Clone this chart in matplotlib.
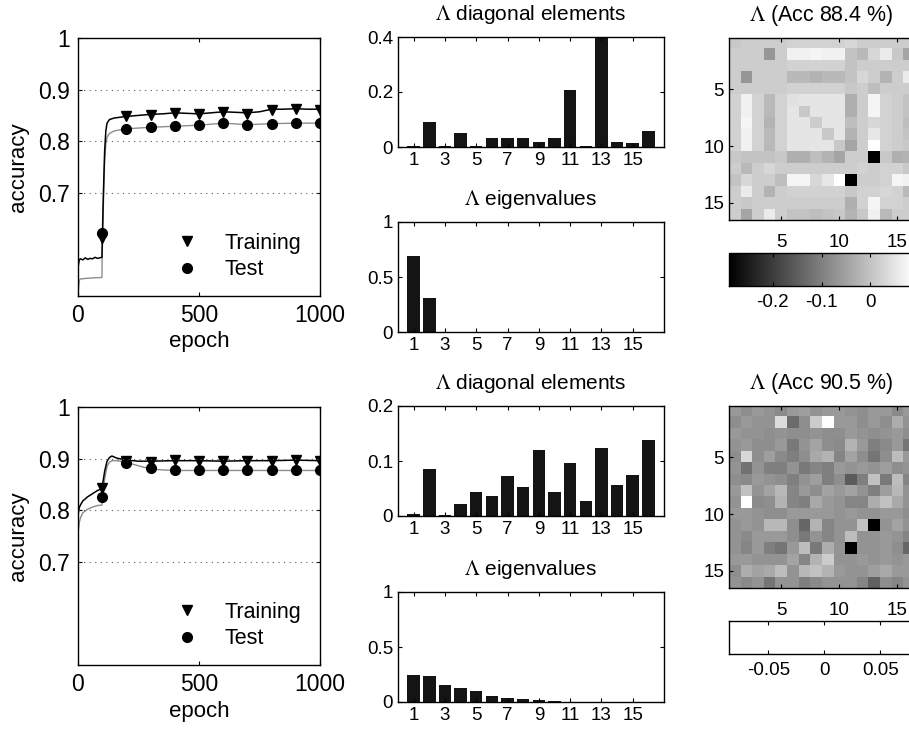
import matplotlib
matplotlib.use('Agg')
import matplotlib.pyplot as plt
import numpy as np

plt.rcParams['font.family'] = ['Liberation Sans', 'DejaVu Sans']
plt.rcParams['mathtext.fontset'] = 'stix'
plt.rcParams['xtick.direction'] = 'in'
plt.rcParams['ytick.direction'] = 'in'
plt.rcParams['xtick.top'] = True
plt.rcParams['ytick.right'] = True
plt.rcParams['axes.linewidth'] = 1.0

########################
# accuracy curves
########################
# run 1 (upper row)
train1_ep = [0, 5, 10, 20, 30, 40, 50, 60, 70, 80, 90, 99, 100, 105, 110, 115, 120, 130, 150,
             200, 250, 300, 350, 400, 450, 500, 550, 600, 650, 700, 750, 800, 850, 900, 950, 1000]
train1_acc = [0.555, 0.570, 0.572, 0.570, 0.574, 0.571, 0.573, 0.572, 0.575, 0.573, 0.574, 0.575,
              0.600, 0.700, 0.780, 0.820, 0.835, 0.842, 0.845, 0.848, 0.850, 0.852, 0.853, 0.855,
              0.854, 0.853, 0.855, 0.857, 0.856, 0.855, 0.857, 0.862, 0.862, 0.863, 0.862, 0.862]
test1_ep = [0, 5, 10, 30, 60, 99, 100, 105, 110, 115, 120, 130, 150,
            200, 300, 400, 500, 600, 700, 800, 900, 1000]
test1_acc = [0.505, 0.530, 0.533, 0.534, 0.535, 0.536, 0.580, 0.680, 0.760, 0.795, 0.808, 0.815,
             0.820, 0.824, 0.827, 0.829, 0.831, 0.835, 0.832, 0.834, 0.835, 0.835]

# run 2 (lower row)
train2_ep = [0, 5, 10, 20, 40, 60, 80, 99, 100, 110, 120, 130, 140, 160, 200, 250,
             300, 400, 500, 600, 700, 800, 900, 1000]
train2_acc = [0.790, 0.805, 0.810, 0.818, 0.826, 0.832, 0.838, 0.842, 0.845, 0.875, 0.895, 0.902,
              0.905, 0.901, 0.897, 0.895, 0.895, 0.896, 0.896, 0.895, 0.896, 0.896, 0.897, 0.896]
test2_ep = [0, 5, 10, 20, 40, 60, 80, 99, 100, 110, 120, 130, 140, 160, 200, 250,
            300, 350, 400, 500, 600, 700, 800, 900, 1000]
test2_acc = [0.755, 0.775, 0.785, 0.795, 0.802, 0.806, 0.809, 0.810, 0.815, 0.860, 0.885, 0.893,
             0.896, 0.896, 0.893, 0.886, 0.880, 0.878, 0.877, 0.877, 0.877, 0.877, 0.877, 0.877, 0.877]

mark_ep = [100, 200, 300, 400, 500, 600, 700, 800, 900, 1000]
train1_mark = [0.612, 0.848, 0.851, 0.854, 0.853, 0.856, 0.853, 0.861, 0.863, 0.861]
test1_mark = [0.622, 0.824, 0.827, 0.829, 0.831, 0.835, 0.832, 0.834, 0.835, 0.835]
train2_mark = [0.843, 0.895, 0.894, 0.897, 0.896, 0.895, 0.896, 0.896, 0.898, 0.896]
test2_mark = [0.826, 0.892, 0.882, 0.878, 0.877, 0.877, 0.877, 0.877, 0.877, 0.877]

########################
# Lambda bars
########################
idx = np.arange(1, 17)
diag1 = [0.002, 0.092, 0.002, 0.052, 0.002, 0.031, 0.031, 0.031,
         0.017, 0.034, 0.207, 0.004, 0.400, 0.017, 0.014, 0.057]
eig1 = [0.69, 0.31, 0.001, 0.001, 0.001, 0.001, 0.001, 0.001,
        0.001, 0.001, 0.001, 0.001, 0.001, 0.001, 0.001, 0.001]
diag2 = [0.004, 0.086, 0.002, 0.022, 0.044, 0.036, 0.073, 0.052,
         0.120, 0.043, 0.097, 0.028, 0.123, 0.057, 0.074, 0.138]
eig2 = [0.248, 0.236, 0.155, 0.124, 0.100, 0.052, 0.039, 0.024,
        0.018, 0.005, 0.003, 0.002, 0.001, 0.001, 0.001, 0.001]

########################
# Lambda matrices
########################
lam1 = np.array([
    [0.008, 0.015, 0.015, 0.015, 0.015, 0.023, 0.023, 0.023, 0.023, 0.023, 0.030, 0.015, 0.015, 0.015, 0.015, 0.015],
    [0.015, 0.015, 0.015, -0.067, 0.015, 0.068, 0.068, 0.075, 0.068, 0.068, 0.001, -0.014, 0.030, 0.060, 0.008, -0.044],
    [0.015, 0.015, 0.015, 0.015, 0.015, 0.023, 0.023, 0.023, 0.023, 0.023, 0.001, 0.015, 0.015, 0.015, 0.015, 0.015],
    [0.015, -0.067, 0.015, 0.015, 0.015, -0.014, -0.014, -0.022, -0.014, -0.014, 0.001, 0.030, 0.015, -0.022, 0.015, 0.060],
    [0.015, 0.015, 0.015, 0.015, 0.015, 0.023, 0.023, 0.023, 0.023, 0.023, 0.008, 0.015, -0.007, 0.015, 0.015, 0.015],
    [0.023, 0.068, 0.023, -0.014, 0.023, 0.045, 0.050, 0.050, 0.050, 0.050, -0.029, 0.015, 0.075, 0.023, 0.015, 0.001],
    [0.023, 0.068, 0.023, -0.014, 0.023, 0.050, 0.008, 0.050, 0.050, 0.050, -0.029, 0.015, 0.075, 0.023, 0.015, 0.001],
    [0.023, 0.075, 0.023, -0.022, 0.023, 0.050, 0.050, 0.015, 0.050, 0.050, -0.007, 0.015, 0.030, 0.023, 0.015, -0.007],
    [0.023, 0.068, 0.023, -0.014, 0.023, 0.050, 0.050, 0.050, 0.008, 0.050, -0.022, 0.015, 0.053, 0.023, 0.015, 0.001],
    [0.023, 0.068, 0.023, -0.014, 0.023, 0.050, 0.050, 0.050, 0.050, 0.008, -0.044, 0.015, 0.090, 0.023, 0.015, 0.008],
    [0.008, 0.001, 0.001, 0.001, 0.008, -0.029, -0.029, -0.007, -0.022, -0.044, 0.015, 0.015, -0.290, 0.008, -0.029, -0.022],
    [0.015, -0.014, 0.015, 0.030, 0.015, 0.015, 0.015, 0.015, 0.015, 0.015, 0.015, 0.023, 0.015, 0.023, 0.023, 0.008],
    [0.001, 0.030, 0.015, 0.015, -0.007, 0.075, 0.075, 0.030, 0.053, 0.090, -0.290, 0.015, 0.015, 0.023, 0.075, 0.068],
    [0.015, 0.060, 0.015, -0.022, 0.015, 0.023, 0.023, 0.023, 0.023, 0.023, 0.008, 0.023, 0.023, 0.030, 0.023, -0.014],
    [0.015, 0.008, 0.015, 0.015, 0.015, 0.015, 0.015, 0.015, 0.015, 0.015, -0.029, 0.023, 0.075, 0.023, 0.023, 0.015],
    [0.015, -0.044, 0.015, 0.060, 0.015, 0.001, 0.001, -0.007, 0.001, 0.008, -0.022, 0.008, 0.068, -0.014, 0.015, 0.015],
])
lam2 = np.array([
    [0.014, 0.007, 0.014, 0.011, 0.004, 0.014, 0.017, 0.011, 0.014, 0.014, 0.011, 0.007, 0.014, 0.014, 0.004, 0.014],
    [0.007, 0.014, 0.011, 0.011, 0.057, -0.016, 0.007, 0.047, 0.080, 0.014, 0.014, 0.007, 0.014, 0.007, 0.027, 0.011],
    [0.014, 0.011, 0.011, 0.007, 0.011, 0.007, 0.007, 0.011, 0.007, 0.007, 0.014, 0.011, 0.007, 0.011, 0.014, 0.007],
    [0.011, 0.014, 0.007, 0.007, 0.014, -0.006, 0.011, 0.021, 0.007, 0.004, 0.031, 0.014, -0.003, 0.004, 0.014, -0.009],
    [0.007, 0.054, 0.007, 0.017, 0.004, -0.003, 0.007, 0.024, 0.031, 0.001, 0.021, 0.007, -0.009, 0.007, 0.037, 0.014],
    [0.011, -0.012, 0.011, -0.003, -0.003, 0.011, -0.006, 0.001, -0.003, 0.014, 0.011, 0.014, 0.011, 0.017, 0.007, 0.011],
    [0.007, 0.004, 0.014, 0.011, 0.007, -0.003, 0.011, 0.017, -0.003, 0.007, -0.026, -0.003, 0.040, -0.006, 0.037, 0.001],
    [0.014, 0.040, 0.011, 0.021, 0.034, 0.001, 0.014, 0.007, 0.021, 0.014, 0.021, 0.011, -0.003, 0.017, 0.034, 0.011],
    [0.011, 0.080, 0.004, 0.007, 0.031, 0.001, -0.003, 0.024, 0.014, 0.011, 0.001, 0.001, 0.027, 0.040, 0.024, 0.011],
    [0.014, 0.014, 0.011, 0.007, 0.007, 0.014, 0.014, 0.014, 0.014, 0.011, 0.014, 0.011, 0.011, 0.014, 0.014, 0.007],
    [0.011, 0.014, 0.011, 0.034, 0.034, 0.007, -0.019, 0.031, 0.001, 0.011, 0.011, 0.040, -0.085, 0.011, 0.021, 0.011],
    [0.011, 0.004, 0.014, 0.014, 0.014, 0.007, -0.006, 0.011, 0.001, 0.011, 0.037, 0.011, 0.011, 0.014, 0.011, 0.001],
    [0.011, 0.001, 0.014, -0.003, -0.009, 0.014, 0.037, -0.006, 0.027, 0.011, -0.085, 0.011, 0.011, 0.014, 0.007, -0.019],
    [0.014, 0.014, 0.011, 0.011, 0.011, 0.021, 0.001, 0.031, 0.047, 0.011, 0.011, 0.014, 0.011, 0.014, 0.011, 0.014],
    [0.007, 0.027, 0.021, 0.024, 0.037, 0.011, 0.034, 0.040, 0.031, 0.014, 0.011, 0.011, 0.017, 0.024, 0.014, 0.014],
    [0.011, 0.004, 0.011, -0.009, 0.011, 0.011, -0.003, 0.004, 0.011, 0.011, 0.011, 0.001, -0.022, 0.007, 0.001, 0.011],
])
acc1 = 88.4
acc2 = 90.5

W, H = 909, 731
fig = plt.figure(figsize=(W / 100, H / 100), dpi=100)


def axesPx(l, t, r, b):
    return fig.add_axes([l / W, 1 - b / H, (r - l) / W, (b - t) / H])


def plotAccuracy(top, trEp, trAcc, teEp, teAcc, trMark, teMark):
    ax = axesPx(78, top, 320, top + 258)
    ax.plot(teEp, teAcc, color='0.55', lw=1.0)
    ax.plot(trEp, trAcc, color='k', lw=1.1)
    hTr, = ax.plot(mark_ep, trMark, 'v', color='k', ms=7, ls='none')
    hTe, = ax.plot(mark_ep, teMark, 'o', color='k', ms=7, ls='none')
    for g in [0.7, 0.8, 0.9]:
        ax.axhline(g, color='0.35', lw=0.8, ls=(0, (1, 4)))
    ax.set_xlim(0, 1000)
    ax.set_ylim(0.5, 1.0)
    ax.set_xticks([0, 500, 1000])
    ax.set_yticks([0.7, 0.8, 0.9, 1.0])
    ax.set_yticklabels(['0.7', '0.8', '0.9', '1'])
    ax.tick_params(labelsize=16.5, length=3, pad=6)
    ax.set_xlabel('epoch', fontsize=16, labelpad=3)
    ax.set_ylabel('accuracy', fontsize=16, labelpad=6)
    ax.legend([hTr, hTe], ['Training', 'Test'], loc='lower left',
              bbox_to_anchor=(0.34, 0.02), frameon=False, fontsize=15.5,
              handletextpad=1.0, labelspacing=0.25, borderpad=0, handlelength=1.5)


def plotBars(top, vals, ymax, yticks, title):
    ax = axesPx(398, top, 664, top + 110)
    ax.bar(idx, vals, width=0.8, color='#141414')
    ax.set_xlim(0, 17)
    ax.set_ylim(0, ymax)
    ax.set_xticks(range(1, 17, 2))
    ax.set_yticks(yticks)
    ax.set_yticklabels(['%g' % v for v in yticks])
    ax.tick_params(labelsize=13.5, length=3)
    ax.set_title(title, fontsize=15, pad=12)


def plotLambda(top, lam, acc):
    ax = axesPx(729, top, 914, top + 182)
    im = ax.imshow(lam, cmap='gray', aspect='auto', interpolation='nearest',
                   extent=(0.5, 16.5, 16.5, 0.5))
    ax.set_xticks([5, 10, 15])
    ax.set_yticks([5, 10, 15])
    ax.tick_params(labelsize=13.5, length=3)
    ax.tick_params(axis='x', pad=10)
    ax.set_title(r'$\Lambda$ (Acc %.1f %%)' % acc, fontsize=15.5, pad=12)
    cax = axesPx(729, top + 215, 914, top + 248)
    return im, cax


plotAccuracy(38, train1_ep, train1_acc, test1_ep, test1_acc, train1_mark, test1_mark)
plotAccuracy(407, train2_ep, train2_acc, test2_ep, test2_acc, train2_mark, test2_mark)

plotBars(37, diag1, 0.4, [0, 0.2, 0.4], r'$\Lambda$ diagonal elements')
plotBars(222, eig1, 1, [0, 0.5, 1], r'$\Lambda$ eigenvalues')
plotBars(406, diag2, 0.2, [0, 0.1, 0.2], r'$\Lambda$ diagonal elements')
plotBars(592, eig2, 1, [0, 0.5, 1], r'$\Lambda$ eigenvalues')

im1, cax1 = plotLambda(38, lam1, acc1)
cb = fig.colorbar(im1, cax=cax1, orientation='horizontal')
cb.set_ticks([-0.2, -0.1, 0])
cb.set_ticklabels(['-0.2', '-0.1', '0'])
cax1.tick_params(labelsize=13.5, length=3, pad=6, direction='in', top=True, bottom=True)

im2, cax2 = plotLambda(406, lam2, acc2)
# colour bar of the second matrix came out blank, keep just the scale
cax2.set_facecolor('white')
cax2.set_xlim(lam2.min(), lam2.max())
cax2.set_yticks([])
cax2.set_xticks([-0.05, 0, 0.05])
cax2.set_xticklabels(['-0.05', '0', '0.05'])
cax2.tick_params(labelsize=13.5, length=3, pad=6, direction='in', top=True, bottom=True, right=False)

fig.savefig('out.png', dpi=100)
